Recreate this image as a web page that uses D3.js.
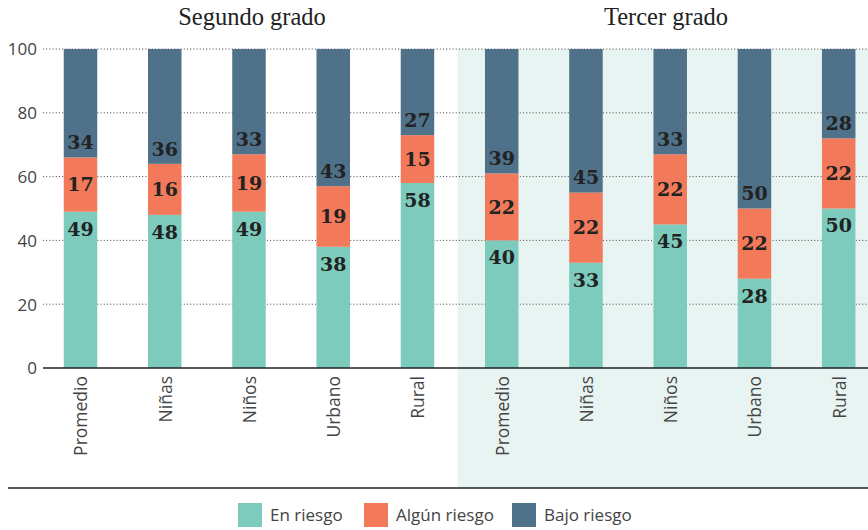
<!DOCTYPE html>
<html>
<head>
<meta charset="utf-8">
<script src="https://cdn.jsdelivr.net/npm/d3@7"></script>
<style>
  html, body { margin: 0; padding: 0; background: #fff; }
  svg { display: block; }
</style>
</head>
<body>
<svg id="chart" width="868" height="530"></svg>
<script>
// ---- Data ----
const grades = ["Segundo grado", "Tercer grado"];
const categories = ["Promedio", "Niñas", "Niños", "Urbano", "Rural"];
const enRiesgoSegundo = [49, 48, 49, 38, 58];
const algunRiesgoSegundo = [17, 16, 19, 19, 15];
const bajoRiesgoSegundo = [34, 36, 33, 43, 27];
const enRiesgoTercer = [40, 33, 45, 28, 50];
const algunRiesgoTercer = [22, 22, 22, 22, 22];
const bajoRiesgoTercer = [39, 45, 33, 50, 28];
const yTicks = [0, 20, 40, 60, 80, 100];
const seriesNames = ["En riesgo", "Algún riesgo", "Bajo riesgo"];
const colors = ["#7ccbbd", "#f27a5b", "#4f7189"];

// ---- Build rows ----
const rows = [];
categories.forEach((c, i) => rows.push({grade: 0, cat: c, id: "s" + i,
  vals: [enRiesgoSegundo[i], algunRiesgoSegundo[i], bajoRiesgoSegundo[i]]}));
categories.forEach((c, i) => rows.push({grade: 1, cat: c, id: "t" + i,
  vals: [enRiesgoTercer[i], algunRiesgoTercer[i], bajoRiesgoTercer[i]]}));

const svg = d3.select("#chart");
const x = d3.scalePoint().domain(rows.map(r => r.id)).range([80.5, 838.7]);
const y = d3.scaleLinear().domain([0, 100]).range([368, 49]);
const barW = 33.5;

// Shaded background for third grade
const shadeX = (x("s4") + x("t0")) / 2 - 2;
svg.append("rect").attr("x", shadeX).attr("y", y(100))
  .attr("width", 868 - shadeX).attr("height", 488 - y(100))
  .attr("fill", "#e8f4f2");

// Gridlines
const grid = svg.append("g");
yTicks.filter(t => t > 0).forEach(t => {
  grid.append("line").attr("x1", 43).attr("x2", 868)
    .attr("y1", y(t)).attr("y2", y(t))
    .attr("stroke", "#444").attr("stroke-width", 1)
    .attr("stroke-dasharray", "1,2.2");
});

// Y axis labels
const yAxis = d3.axisLeft(y).tickValues(yTicks).tickSize(0).tickPadding(0);
const yg = svg.append("g").attr("transform", "translate(37,0)").call(yAxis);
yg.select(".domain").remove();
yg.selectAll("text").attr("font-family", "'Open Sans', sans-serif")
  .attr("font-size", 17).attr("fill", "#444").attr("dy", "0.35em");

// Bars: green from 0, dark from (100 - bajo) to 100, orange in between
rows.forEach(r => {
  const [a, b, c] = r.vals;
  const segs = [[0, a], [a, 100 - c], [100 - c, 100]];
  const cx = x(r.id);
  const g = svg.append("g");
  segs.forEach((s, k) => {
    g.append("rect").attr("x", cx - barW / 2).attr("width", barW)
      .attr("y", y(s[1])).attr("height", y(s[0]) - y(s[1]))
      .attr("fill", colors[k]);
  });
  const lab = (txt, yy) => g.append("text").attr("x", cx).attr("y", yy)
    .attr("text-anchor", "middle").attr("dy", "0.36em")
    .attr("font-family", "'DejaVu Serif', serif").attr("font-weight", "bold")
    .attr("font-size", 19).attr("fill", "#222").text(txt);
  lab(a, y(segs[0][1]) + 17);
  lab(b, (y(segs[1][0]) + y(segs[1][1])) / 2);
  lab(c, y(segs[2][0]) - 15);
});

// Baseline
svg.append("line").attr("x1", 43).attr("x2", 868).attr("y1", y(0)).attr("y2", y(0))
  .attr("stroke", "#222").attr("stroke-width", 1.5);

// Category labels
const xAxis = d3.axisBottom(x).tickSize(0).tickFormat((d, i) => rows[i].cat);
const xg = svg.append("g").attr("transform", `translate(0,${y(0)})`).call(xAxis);
xg.select(".domain").remove();
xg.selectAll("text")
  .attr("transform", "rotate(-90)")
  .attr("x", -8).attr("y", 0).attr("dy", "0.36em")
  .attr("text-anchor", "end")
  .attr("font-family", "'Open Sans', sans-serif").attr("font-size", 17.5)
  .attr("fill", "#444");

// Bottom rule
svg.append("line").attr("x1", 8).attr("x2", 868).attr("y1", 488).attr("y2", 488)
  .attr("stroke", "#222").attr("stroke-width", 1.5);

// Grade titles
const titleX = [252, 666];
grades.forEach((gname, i) => {
  svg.append("text").attr("x", titleX[i]).attr("y", 25).attr("text-anchor", "middle")
    .attr("font-family", "'Liberation Serif', serif").attr("font-size", 24.5)
    .attr("fill", "#222").text(gname);
});

// Legend
const legX = [238, 364, 512];
seriesNames.forEach((n, i) => {
  svg.append("rect").attr("x", legX[i]).attr("y", 503).attr("width", 24).attr("height", 24)
    .attr("fill", colors[i]);
  svg.append("text").attr("x", legX[i] + 32).attr("y", 515).attr("dy", "0.36em")
    .attr("font-family", "'Open Sans', sans-serif").attr("font-size", 17)
    .attr("fill", "#444").text(n);
});
</script>
</body>
</html>
